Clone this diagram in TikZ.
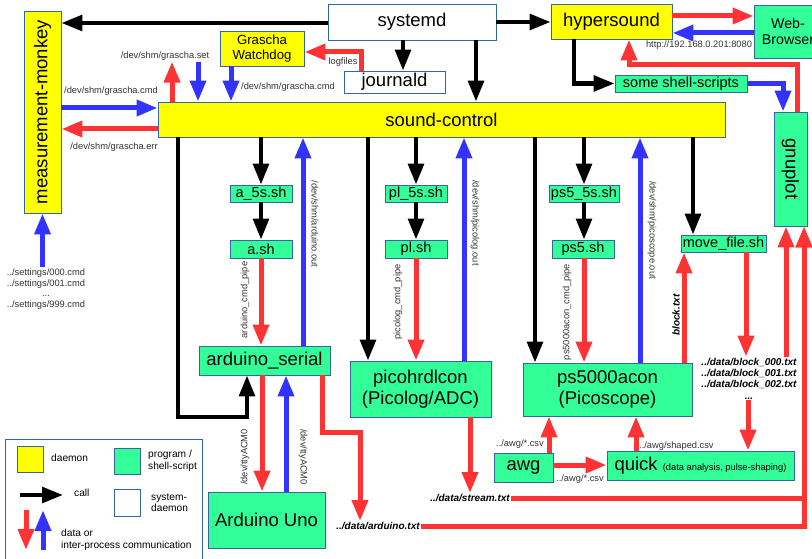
\documentclass[tikz,border=0pt]{standalone}
\usepackage{fontspec}
\setmainfont{Liberation Sans}
\usepackage{graphicx}
\usetikzlibrary{arrows.meta}
\definecolor{sndyellow}{HTML}{FFFF00}
\definecolor{sndgreen}{HTML}{33FF99}
\definecolor{sndred}{HTML}{FF3333}
\definecolor{sndblue}{HTML}{3333FF}
\definecolor{sndframe}{HTML}{3465A4}
\definecolor{sndtext}{HTML}{333333}
\newcommand{\fbig}{\fontsize{18.5}{21}\selectfont}
\newcommand{\fmid}{\fontsize{14.5}{16}\selectfont}
\newcommand{\fsmall}{\fontsize{9.3}{10.7}\selectfont}
\newcommand{\flegend}{\fontsize{10.2}{11.5}\selectfont}
\newcommand{\ffile}{\fontsize{10}{11.3}\selectfont\bfseries\itshape}

\begin{document}
\begin{tikzpicture}[
    x=1pt,y=-1pt,
    box/.style    = {draw=sndframe,line width=0.8pt,inner sep=0pt,align=center},
    daemon/.style = {box,fill=sndyellow},
    prog/.style   = {box,fill=sndgreen},
    sysd/.style   = {box,fill=white},
    call/.style   = {-{Triangle[length=21pt,width=15.5pt]},line width=4.3pt,black},
    dat/.style    = {-{Triangle[length=21pt,width=15.5pt]},line width=5pt,sndred},
    ipc/.style    = {-{Triangle[length=21pt,width=15.5pt]},line width=5pt,sndblue},
    lbl/.style    = {font=\fsmall,text=sndtext,inner sep=1pt,align=center},
    fname/.style  = {font=\ffile,text=black,inner sep=1pt,align=center},
  ]
  \useasboundingbox (0,0) rectangle (812,559);
  \clip (0,0) rectangle (812,559);

  % daemons and system daemons
  \node[daemon,minimum width=37,minimum height=202]  (mm) at (42.5,112)
       {\fbig\rotatebox{90}{measurement-monkey}};
  \node[sysd,minimum width=168,minimum height=36]    (sd) at (412,22) {\fbig systemd};
  \node[daemon,minimum width=121,minimum height=35]  (hs) at (611.5,21.5) {\fbig hypersound};
  \node[prog,minimum width=68,minimum height=53,font=\fontsize{14.2}{16}\selectfont]
       (web) at (788,31.5) {Web-\\Browser};
  \node[daemon,minimum width=84,minimum height=35,font=\fontsize{13.2}{14.5}\selectfont]
       (wd) at (262,48.5) {Grascha\\Watchdog};
  \node[sysd,minimum width=101,minimum height=22]    (jd) at (394.5,82) {\fbig journald};
  \node[prog,minimum width=132,minimum height=17]    (sh) at (681,83.5) {\fmid some shell-scripts};
  \node[daemon,minimum width=567,minimum height=35]  (sc) at (441.5,119.5) {\fbig sound-control};
  \node[prog,minimum width=33,minimum height=114]    (gp) at (790.5,169)
       {\fbig\rotatebox{-90}{gnuplot}};

  % shell scripts
  \node[prog,minimum width=62,minimum height=17]  (a5)   at (261,193.5) {\fmid a\_5s.sh};
  \node[prog,minimum width=62,minimum height=18]  (ash)  at (261,249)   {\fmid a.sh};
  \node[prog,minimum width=62,minimum height=17]  (pl5)  at (416,193.5) {\fmid pl\_5s.sh};
  \node[prog,minimum width=62,minimum height=18]  (plsh) at (416,249)   {\fmid pl.sh};
  \node[prog,minimum width=70,minimum height=17]  (ps55) at (584,193.5) {\fmid ps5\_5s.sh};
  \node[prog,minimum width=62,minimum height=18]  (ps5)  at (583,249)   {\fmid ps5.sh};
  \node[prog,minimum width=85,minimum height=17]  (mv)   at (723.5,243.5) {\fmid move\_file.sh};

  % programs
  \node[prog,minimum width=131,minimum height=29] (as)   at (264.5,360.5) {\fbig arduino\_serial};
  \node[prog,minimum width=117,minimum height=56] (au)   at (266.5,520)   {\fbig Arduino Uno};
  \node[prog,minimum width=141,minimum height=56,font=\fbig] (pico) at (420.5,389)
       {picohrdlcon\\(Picolog/ADC)};
  \node[prog,minimum width=169,minimum height=53,font=\fbig] (ps)   at (607.5,389.5)
       {ps5000acon\\(Picoscope)};
  \node[prog,minimum width=59,minimum height=29]  (awg)  at (523.5,467.5) {\fbig awg};
  \node[prog,minimum width=187,minimum height=29] (qk)   at (700.5,465.5)
       {\fbig quick {\fsmall (data analysis, pulse-shaping)}};

  % file and pipe labels
  \node[lbl] (gset) at (165,56)  {/dev/shm/grascha.set};
  \node[lbl] (gcmd) at (111,91)  {/dev/shm/grascha.cmd};
  \node[lbl] (gerr) at (114,147) {/dev/shm/grascha.err};
  \node[lbl,anchor=west] (wcmd) at (240,87) {/dev/shm/grascha.cmd};
  \node[lbl] (lf)   at (343,62)  {logfiles};
  \node[lbl] (url)  at (699,45.5) {http://192.168.0.201:8080};
  \node[lbl] (set)  at (46,289)
       {../settings/000.cmd\\../settings/001.cmd\\...\\../settings/999.cmd};
  \node[lbl,rotate=90]  (acp) at (245,300) {arduino\_cmd\_pipe};
  \node[lbl,rotate=-90] (aou) at (315,224) {/dev/shm/arduino.out};
  \node[lbl,rotate=90]  (tt1) at (245,457) {/dev/ttyACM0};
  \node[lbl,rotate=-90] (tt2) at (303,457) {/dev/ttyACM0};
  \node[lbl,rotate=90]  (pcp) at (398,302) {picolog\_cmd\_pipe};
  \node[lbl,rotate=-90] (pou) at (475,223) {/dev/shm/picolog.out};
  \node[lbl,rotate=90]  (scp) at (567,312) {ps5000acon\_cmd\_pipe};
  \node[lbl,rotate=-90] (sou) at (652,230) {/dev/shm/picoscope.out};
  \node[fname,rotate=90] (btx) at (676,315) {block.txt};
  \node[lbl] (csv1) at (520,444) {../awg/*.csv};
  \node[lbl] (csv2) at (580,479) {../awg/*.csv};
  \node[lbl,anchor=west] (shp) at (638,446) {../awg/shaped.csv};
  \node[fname] (adt) at (378,526) {../data/arduino.txt};
  \node[fname] (st)  at (470,498) {../data/stream.txt};
  \node[fname] (blk) at (749,378.5)
       {../data/block\_000.txt\\../data/block\_001.txt\\../data/block\_002.txt\\...};

  % calls
  \draw[call] (sd.west |- 0,23) -- (mm.east |- 0,23);
  \draw[call] (sd.east |- 0,22) -- (hs.west |- 0,22);
  \draw[call] (sd.south -| 403,0) -- (jd.north -| 403,0);
  \draw[call] (sd.south -| 476,0) -- (sc.north -| 476,0);
  \draw[call] (hs.south -| 574,0) |- (sh.west);
  \draw[call] (sc.south -| a5) -- (a5.north);
  \draw[call] (a5.south) -- (ash.north);
  \draw[call] (sc.south -| pl5) -- (pl5.north);
  \draw[call] (pl5.south) -- (plsh.north);
  \draw[call] (sc.south -| ps55) -- (ps55.north);
  \draw[call] (ps55.south) -- (ps5.north -| ps55);
  \draw[call] (sc.south -| 178,0) |- (247,417) -- (as.south -| 247,0);
  \draw[call] (sc.south -| 368,0) -- (pico.north -| 368,0);
  \draw[call] (sc.south -| 535,0) -- (ps.north -| 535,0);
  \draw[call] (sc.south -| 693,0) -- (mv.north -| 693,0);

  % grascha, journald and web interface
  \draw[dat] (jd.north -| 361,0) |- (wd.east |- 0,52);
  \draw[dat] (sc.north -| 172,0) -- (gset.south -| 172,0);
  \draw[ipc] (gset.south -| 198,0) -- (sc.north -| 198,0);
  \draw[ipc] (wd.south -| 231,0) -- (sc.north -| 231,0);
  \draw[ipc] (mm.east |- 0,108) -- (sc.west |- 0,108);
  \draw[dat] (sc.west |- 0,129) -- (mm.east |- 0,129);
  \draw[ipc] (set.north -| mm) -- (mm.south);
  \draw[dat] (hs.east |- 0,16) -- (web.west |- 0,16);
  \draw[ipc] (web.west |- 0,33) -- (hs.east |- 0,33);
  \draw[ipc] (sh.east) -| (gp.north -| 783,0);
  \draw[dat] (gp.north -| 797,0) |- (629,65) -- (hs.south -| 629,0);

  % arduino
  \draw[dat] (ash.south) -- (as.north -| ash);
  \draw[ipc] (as.north -| 303,0) -- (sc.south -| 303,0);
  \draw[dat] (as.south -| 262,0) -- (au.north -| 262,0);
  \draw[ipc] (au.north -| 286,0) -- (as.south -| 286,0);
  \draw[dat] (as.south -| 322,0) |- (360,432) -- (adt.north -| 360,0);

  % picolog
  \draw[dat] (plsh.south) -- (pico.north -| plsh);
  \draw[ipc] (pico.north -| 464,0) -- (sc.south -| 464,0);
  \draw[dat] (pico.south -| st) -- (st.north);

  % picoscope
  \draw[dat] (ps5.south -| ps55) -- (ps.north -| ps55);
  \draw[ipc] (ps.north -| 640,0) -- (sc.south -| 640,0);
  \draw[dat] (ps.north -| 684,0) -- (mv.south -| 684,0);
  \draw[dat] (mv.south -| 746,0) -- (blk.north -| 746,0);
  \draw[dat] (blk.south -| 748,0) -- (qk.north -| 748,0);
  \draw[dat] (awg.north -| 549,0) -- (ps.south -| 549,0);
  \draw[dat] (awg.east |- 0,465) -- (qk.west |- 0,465);
  \draw[dat] (qk.north -| 636,0) -- (ps.south -| 636,0);

  % data files into gnuplot
  \draw[dat] (blk.north -| 786,0) -- (gp.south -| 786,0);
  \draw[dat] (st.east) -| (gp.south -| 804,0);
  \draw[dat] (adt.east) -| (gp.south -| 804,0);

  % legend
  \node[sysd,minimum width=197,minimum height=126] (leg) at (103.5,502) {};
  \node[daemon,minimum width=26,minimum height=26] (ly) at (30,459) {};
  \node[prog,minimum width=26,minimum height=26]   (lg) at (127,461) {};
  \node[sysd,minimum width=26,minimum height=27]   (lw) at (127,502.5) {};
  \node[font=\flegend,anchor=west,inner sep=0pt] (lyt) at (51,458) {daemon};
  \node[font=\flegend,anchor=west,align=left,inner sep=0pt] (lgt) at (148,461)
       {program /\\shell-script};
  \node[font=\flegend,anchor=west,align=left,inner sep=0pt] (lwt) at (151,503)
       {system-\\daemon};
  \node[font=\flegend,anchor=west,inner sep=0pt] (lct) at (74,493) {call};
  \node[font=\flegend,anchor=west,align=left,inner sep=0pt] (ldt) at (61,540)
       {data or\\inter-process communication};
  \coordinate (lc0) at (20,495);
  \coordinate (lc1) at (63,495);
  \coordinate (lr0) at (26,510);
  \coordinate (lr1) at (26,550);
  \coordinate (lb0) at (43,550);
  \coordinate (lb1) at (43,510);
  \draw[call] (lc0) -- (lc1);
  \draw[dat] (lr0) -- (lr1);
  \draw[ipc] (lb0) -- (lb1);

\end{tikzpicture}
\end{document}
